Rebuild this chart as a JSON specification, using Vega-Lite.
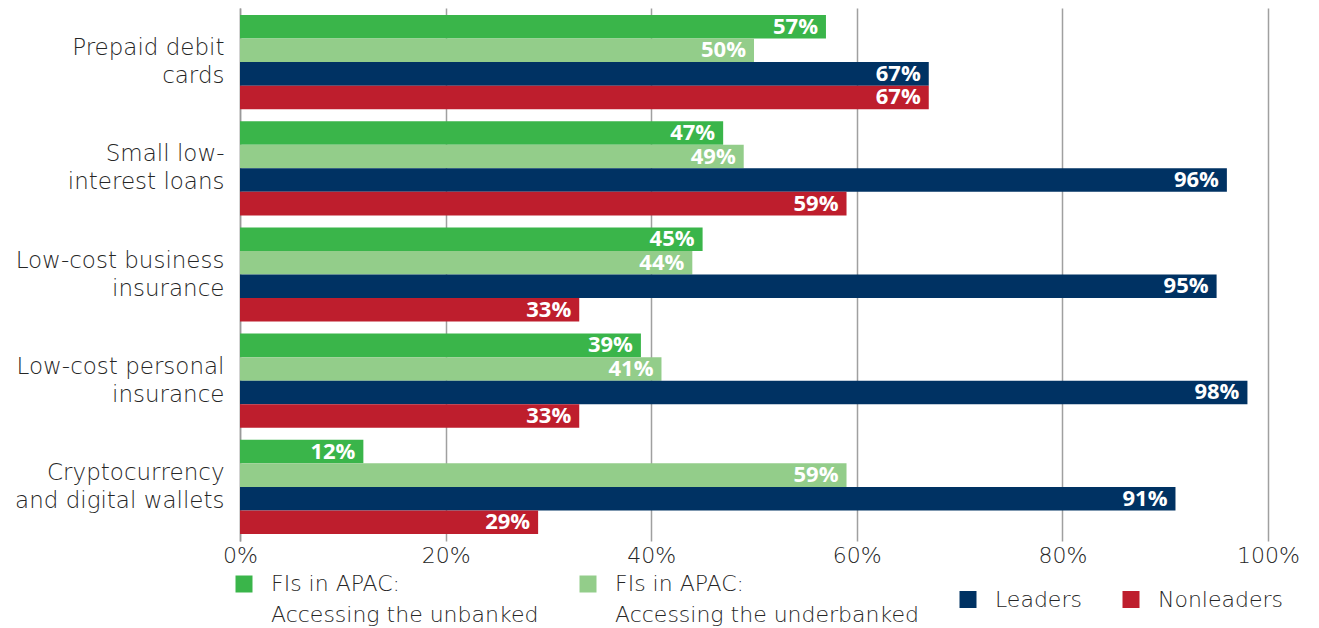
{
  "$schema": "https://vega.github.io/schema/vega-lite/v6.json",
  "width": 1028,
  "height": 533,
  "autosize": {"type": "none"},
  "padding": {"left": 240, "top": 8, "right": 51, "bottom": 87},
  "background": "white",
  "config": {"view": {"stroke": null}, "style": {"guide-label": {"lineHeight": 31}}},
  "data": {
    "values": [
      {"cat": "Prepaid debit|cards", "series": "FIs in APAC:|Accessing the unbanked", "v": 0.57},
      {"cat": "Prepaid debit|cards", "series": "FIs in APAC:|Accessing the underbanked", "v": 0.50},
      {"cat": "Prepaid debit|cards", "series": "Leaders", "v": 0.67},
      {"cat": "Prepaid debit|cards", "series": "Nonleaders", "v": 0.67},
      {"cat": "Small low-|interest loans", "series": "FIs in APAC:|Accessing the unbanked", "v": 0.47},
      {"cat": "Small low-|interest loans", "series": "FIs in APAC:|Accessing the underbanked", "v": 0.49},
      {"cat": "Small low-|interest loans", "series": "Leaders", "v": 0.96},
      {"cat": "Small low-|interest loans", "series": "Nonleaders", "v": 0.59},
      {"cat": "Low-cost business|insurance", "series": "FIs in APAC:|Accessing the unbanked", "v": 0.45},
      {"cat": "Low-cost business|insurance", "series": "FIs in APAC:|Accessing the underbanked", "v": 0.44},
      {"cat": "Low-cost business|insurance", "series": "Leaders", "v": 0.95},
      {"cat": "Low-cost business|insurance", "series": "Nonleaders", "v": 0.33},
      {"cat": "Low-cost personal|insurance", "series": "FIs in APAC:|Accessing the unbanked", "v": 0.39},
      {"cat": "Low-cost personal|insurance", "series": "FIs in APAC:|Accessing the underbanked", "v": 0.41},
      {"cat": "Low-cost personal|insurance", "series": "Leaders", "v": 0.98},
      {"cat": "Low-cost personal|insurance", "series": "Nonleaders", "v": 0.33},
      {"cat": "Cryptocurrency|and digital wallets", "series": "FIs in APAC:|Accessing the unbanked", "v": 0.12},
      {"cat": "Cryptocurrency|and digital wallets", "series": "FIs in APAC:|Accessing the underbanked", "v": 0.59},
      {"cat": "Cryptocurrency|and digital wallets", "series": "Leaders", "v": 0.91},
      {"cat": "Cryptocurrency|and digital wallets", "series": "Nonleaders", "v": 0.29}
    ]
  },
  "encoding": {
    "y": {
      "field": "cat",
      "type": "nominal",
      "sort": null,
      "scale": {"paddingInner": 0.113, "paddingOuter": 0.066},
      "axis": {
        "title": null,
        "domain": true,
        "domainColor": "#999999",
        "domainWidth": 1.5,
        "ticks": false,
        "grid": false,
        "labelFont": "DejaVu Sans",
        "labelFontWeight": 200,
        "labelFontSize": 23,
        "labelColor": "#262626",
        "labelPadding": 16,
        "labelLineHeight": 28,
        "labelOffset": -14,
        "labelLimit": 300,
        "labelExpr": "split(datum.label, '|')"
      }
    },
    "yOffset": {
      "field": "series",
      "type": "nominal",
      "sort": ["FIs in APAC:|Accessing the unbanked", "FIs in APAC:|Accessing the underbanked", "Leaders", "Nonleaders"],
      "scale": {"paddingInner": 0, "paddingOuter": 0}
    },
    "x": {
      "field": "v",
      "type": "quantitative",
      "scale": {"domain": [0, 1]},
      "axis": {
        "title": null,
        "values": [0, 0.2, 0.4, 0.6, 0.8, 1],
        "format": ".0%",
        "grid": true,
        "gridColor": "#a0a0a0",
        "gridWidth": 1.5,
        "domain": false,
        "ticks": false,
        "labelFlush": false,
        "labelFont": "DejaVu Sans",
        "labelFontWeight": 200,
        "labelFontSize": 22,
        "labelColor": "#262626",
        "labelPadding": 4
      }
    }
  },
  "layer": [
    {
      "mark": {"type": "bar"},
      "encoding": {
        "color": {
          "field": "series",
          "type": "nominal",
          "scale": {
            "domain": ["FIs in APAC:|Accessing the unbanked", "FIs in APAC:|Accessing the underbanked", "Leaders", "Nonleaders"],
            "range": ["#3ab54a", "#93cd8a", "#003263", "#be1e2d"]
          },
          "legend": {
            "title": null,
            "orient": "none",
            "legendX": -7,
            "legendY": 565,
            "direction": "horizontal",
            "columns": 4,
            "symbolType": "square",
            "symbolSize": 289,
            "symbolStrokeWidth": 0,
            "symbolOpacity": 1,
            "labelFont": "DejaVu Sans",
            "labelFontWeight": 200,
            "labelFontSize": 22,
            "labelColor": "#262626",
            "labelOffset": 16,
            "labelLimit": 400,
            "columnPadding": 38,
            "labelExpr": "split(datum.label, '|')"
          }
        }
      }
    },
    {
      "mark": {"type": "text", "align": "right", "baseline": "middle", "dx": -8, "color": "white", "font": "Open Sans", "fontWeight": "bold", "fontSize": 22},
      "encoding": {"text": {"field": "v", "type": "quantitative", "format": ".0%"}}
    }
  ]
}
